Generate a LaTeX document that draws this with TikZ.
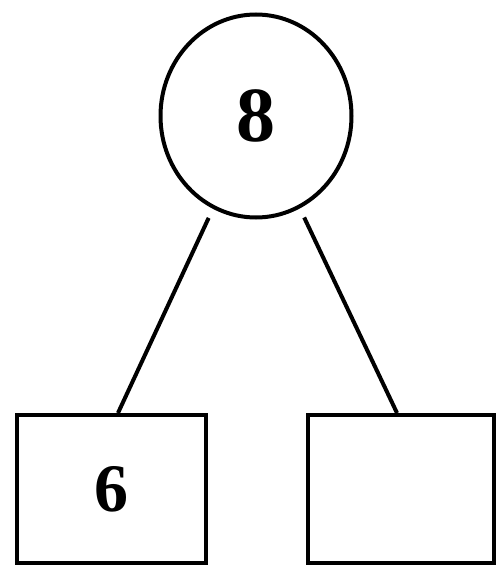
\documentclass[tikz,border=0pt]{standalone}
\usepackage{fontspec}
\setmainfont{Liberation Serif}
\usetikzlibrary{shapes.geometric}
\begin{document}
\begin{tikzpicture}[x=1pt,y=-1pt,
  every node/.style={line width=4pt,draw=black,inner sep=0pt,font=\bfseries},
  rootnode/.style={ellipse,minimum width=191pt,minimum height=203pt,font=\fontsize{78}{78}\selectfont\bfseries},
  leafbox/.style={rectangle,minimum height=148pt,font=\fontsize{68}{68}\selectfont\bfseries},
  edge/.style={line width=4pt,shorten <=10pt}]
\useasboundingbox (0,0) rectangle (498,570);
\node[rootnode] (c) at (256,116) {8};
\node[leafbox,minimum width=189pt] (l) at (111.5,489) {6};
\node[leafbox,minimum width=186pt] (r) at (401,489) {};
\draw[edge] (c) -- ([xshift=6.5pt]l.north);
\draw[edge] (c) -- ([xshift=-4pt]r.north);
\end{tikzpicture}
\end{document}
